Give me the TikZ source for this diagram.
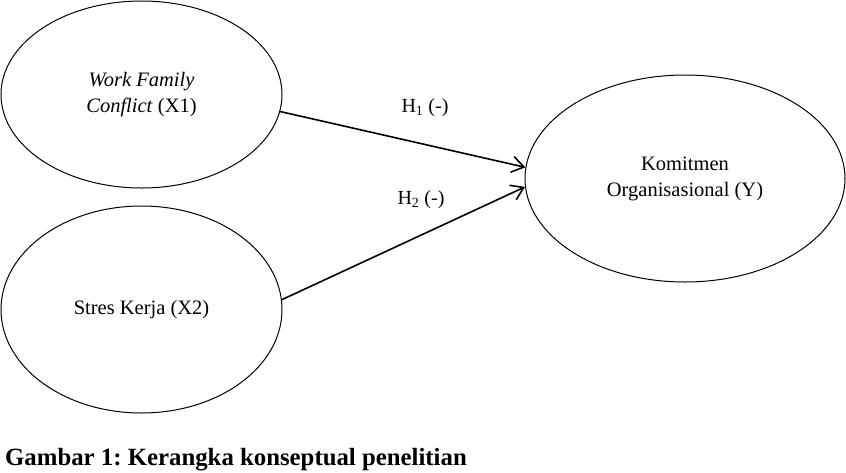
\documentclass[tikz,border=0pt]{standalone}
\usepackage{fontspec}
\setmainfont{Liberation Serif}
\usetikzlibrary{shapes.geometric,arrows.meta}
\frenchspacing
\begin{document}
\begin{tikzpicture}[x=1pt,y=-1pt,
  var/.style={draw,line width=1pt,ellipse,inner sep=0pt,align=center,
    font=\fontsize{20.5}{26}\selectfont},
  arr/.style={line width=1.6pt,-{Straight Barb[length=12pt,width=16pt]}},
  hyp/.style={font=\fontsize{20}{24}\selectfont,inner sep=0pt},
  captext/.style={font=\fontsize{24.8}{28}\selectfont\bfseries,inner sep=0pt,anchor=base west}]
\useasboundingbox (0,0) rectangle (846,472);
\node[var,minimum width=281pt,minimum height=187pt] (e1) at (141.5,94.5)
  {\textit{Work Family}\\\textit{Conflict} (X1)};
\node[var,minimum width=281pt,minimum height=207pt] (e2) at (141.5,309.5)
  {Stres Kerja (X2)};
\node[var,minimum width=320pt,minimum height=207pt] (e3) at (685,178.5)
  {Komitmen\\Organisasional (Y)};
\draw[arr] (e1.-7.7) -- (e3.176.2);
\draw[arr] (e2.4.3) -- (e3.183.4);
\node[hyp] (h1) at (425,108) {H\textsubscript{1} (-)};
\node[hyp] (h2) at (421,200) {H\textsubscript{2} (-)};
\node[captext] (c) at (5,465) {Gambar 1: Kerangka konseptual penelitian};
\end{tikzpicture}
\end{document}
